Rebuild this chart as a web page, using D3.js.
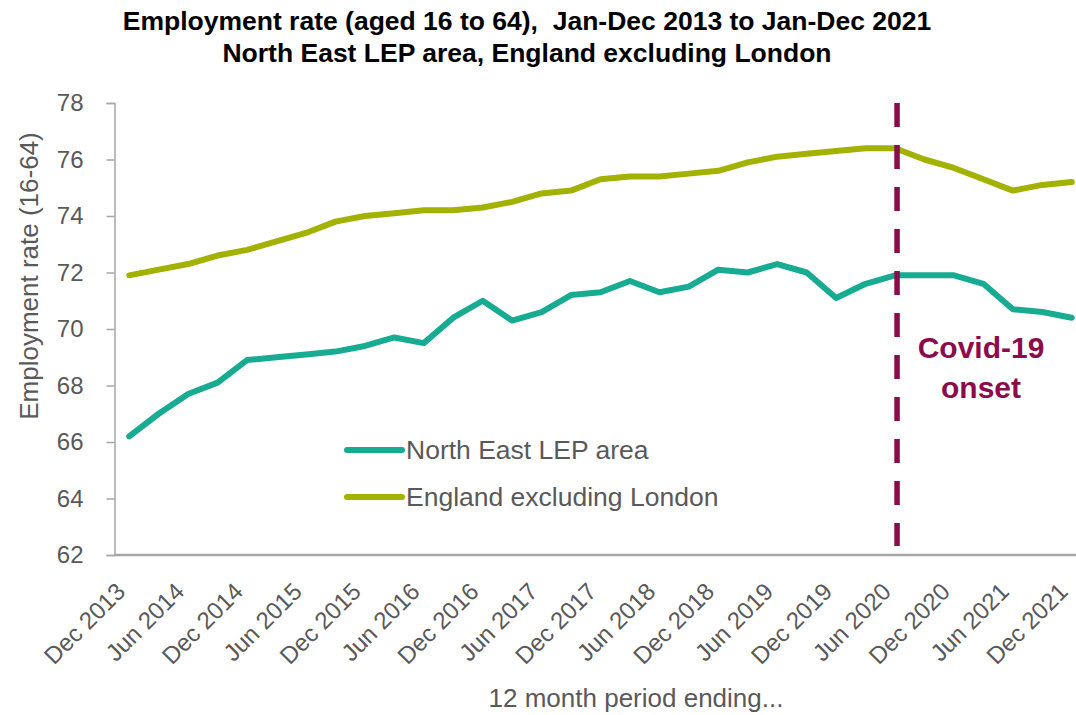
<!DOCTYPE html>
<html>
<head>
<meta charset="utf-8">
<script src="https://cdn.jsdelivr.net/npm/d3@7"></script>
<style>
  html, body { margin: 0; padding: 0; background: #fff; }
  svg { display: block; font-family: "Liberation Sans", Arial, sans-serif; }
</style>
</head>
<body>
<svg id="chart" width="1076" height="715"></svg>
<script>
// Quarterly 12-month periods, Dec 2013 .. Dec 2021
const periods = [
  "Dec 2013","Mar 2014","Jun 2014","Sep 2014","Dec 2014","Mar 2015","Jun 2015","Sep 2015",
  "Dec 2015","Mar 2016","Jun 2016","Sep 2016","Dec 2016","Mar 2017","Jun 2017","Sep 2017",
  "Dec 2017","Mar 2018","Jun 2018","Sep 2018","Dec 2018","Mar 2019","Jun 2019","Sep 2019",
  "Dec 2019","Mar 2020","Jun 2020","Sep 2020","Dec 2020","Mar 2021","Jun 2021","Sep 2021",
  "Dec 2021"
];

// Employment rate (16-64), %
const northEast = [
  66.2, 67.0, 67.7, 68.1, 68.9, 69.0, 69.1, 69.2,
  69.4, 69.7, 69.5, 70.4, 71.0, 70.3, 70.6, 71.2,
  71.3, 71.7, 71.3, 71.5, 72.1, 72.0, 72.3, 72.0,
  71.1, 71.6, 71.9, 71.9, 71.9, 71.6, 70.7, 70.6,
  70.4
];
const englandExLondon = [
  71.9, 72.1, 72.3, 72.6, 72.8, 73.1, 73.4, 73.8,
  74.0, 74.1, 74.2, 74.2, 74.3, 74.5, 74.8, 74.9,
  75.3, 75.4, 75.4, 75.5, 75.6, 75.9, 76.1, 76.2,
  76.3, 76.4, 76.4, 76.0, 75.7, 75.3, 74.9, 75.1,
  75.2
];

// Every second period gets an axis label
const tickLabels = periods.filter((p, i) => i % 2 === 0);
const yTicks = [62, 64, 66, 68, 70, 72, 74, 76, 78];
const covidPeriod = "Jun 2020";

const series = [
  { name: "North East LEP area", values: northEast, color: "#17AC92" },
  { name: "England excluding London", values: englandExLondon, color: "#A3B100" }
];

const svg = d3.select("#chart");
const margin = { left: 114.5, right: 1086.5, top: 103, bottom: 555 };
const textGrey = "#595959";
const axisGrey = "#A6A6A6";
const covidColor = "#8C0B4B";

const x = d3.scalePoint().domain(periods).range([margin.left, margin.right]).padding(0.5);
const y = d3.scaleLinear().domain([62, 78]).range([margin.bottom, margin.top]);

// Title
const title = svg.append("text")
  .attr("text-anchor", "middle")
  .attr("font-weight", "bold")
  .attr("font-size", 26.5)
  .attr("fill", "#000")
  .style("white-space", "pre");
title.append("tspan").attr("x", 527).attr("y", 30)
  .text("Employment rate (aged 16 to 64),  Jan-Dec 2013 to Jan-Dec 2021");
title.append("tspan").attr("x", 527).attr("y", 62)
  .text("North East LEP area, England excluding London");

// Y axis
const yAxis = svg.append("g")
  .attr("transform", `translate(${margin.left},0)`)
  .call(d3.axisLeft(y).tickValues(yTicks).tickSize(8).tickPadding(23).tickFormat(d3.format("d")));
yAxis.select(".domain").attr("stroke", axisGrey).attr("stroke-width", 1.5);
yAxis.selectAll(".tick line").attr("stroke", axisGrey).attr("stroke-width", 1.5);
yAxis.selectAll(".tick text").attr("font-size", 24).attr("fill", textGrey)
  .attr("font-family", "Liberation Sans, Arial, sans-serif");

// X axis
const xAxis = svg.append("g")
  .attr("transform", `translate(0,${margin.bottom})`)
  .call(d3.axisBottom(x).tickValues(tickLabels).tickSize(0).tickPadding(0));
xAxis.select(".domain").attr("stroke", axisGrey).attr("stroke-width", 2.5)
  .attr("d", `M${margin.left},0H${margin.right}`);
xAxis.selectAll(".tick text")
  .attr("font-size", 24)
  .attr("fill", textGrey)
  .attr("font-family", "Liberation Sans, Arial, sans-serif")
  .attr("text-anchor", "end")
  .attr("dy", null)
  .attr("y", 0)
  .attr("transform", "translate(-3,38) rotate(-45)");

// Axis titles
svg.append("text")
  .attr("transform", "translate(38,276) rotate(-90)")
  .attr("text-anchor", "middle")
  .attr("font-size", 26)
  .attr("fill", textGrey)
  .text("Employment rate (16-64)");

svg.append("text")
  .attr("x", 636).attr("y", 707)
  .attr("text-anchor", "middle")
  .attr("font-size", 26)
  .attr("fill", textGrey)
  .text("12 month period ending...");

// Series lines
const line = d3.line()
  .x((d, i) => x(periods[i]))
  .y(d => y(d));

svg.append("g").selectAll("path")
  .data(series)
  .join("path")
  .attr("d", d => line(d.values))
  .attr("fill", "none")
  .attr("stroke", d => d.color)
  .attr("stroke-width", 6)
  .attr("stroke-linejoin", "round")
  .attr("stroke-linecap", "round");

// Covid-19 marker
svg.append("line")
  .attr("x1", x(covidPeriod) + 2).attr("x2", x(covidPeriod) + 2)
  .attr("y1", margin.top).attr("y2", margin.bottom - 9)
  .attr("stroke", covidColor)
  .attr("stroke-width", 5.5)
  .attr("stroke-dasharray", "24 18");

const covidLabel = svg.append("text")
  .attr("text-anchor", "middle")
  .attr("font-weight", "bold")
  .attr("font-size", 30)
  .attr("fill", covidColor);
covidLabel.append("tspan").attr("x", 981).attr("y", 358).text("Covid-19");
covidLabel.append("tspan").attr("x", 981).attr("y", 398).text("onset");

// Legend
const legend = svg.append("g").selectAll("g")
  .data(series)
  .join("g")
  .attr("transform", (d, i) => `translate(347,${450 + i * 47})`);
legend.append("line")
  .attr("x1", 0).attr("x2", 55)
  .attr("stroke", d => d.color)
  .attr("stroke-width", 6)
  .attr("stroke-linecap", "round");
legend.append("text")
  .attr("x", 59).attr("y", 9)
  .attr("font-size", 26.5)
  .attr("fill", textGrey)
  .text(d => d.name);
</script>
</body>
</html>
